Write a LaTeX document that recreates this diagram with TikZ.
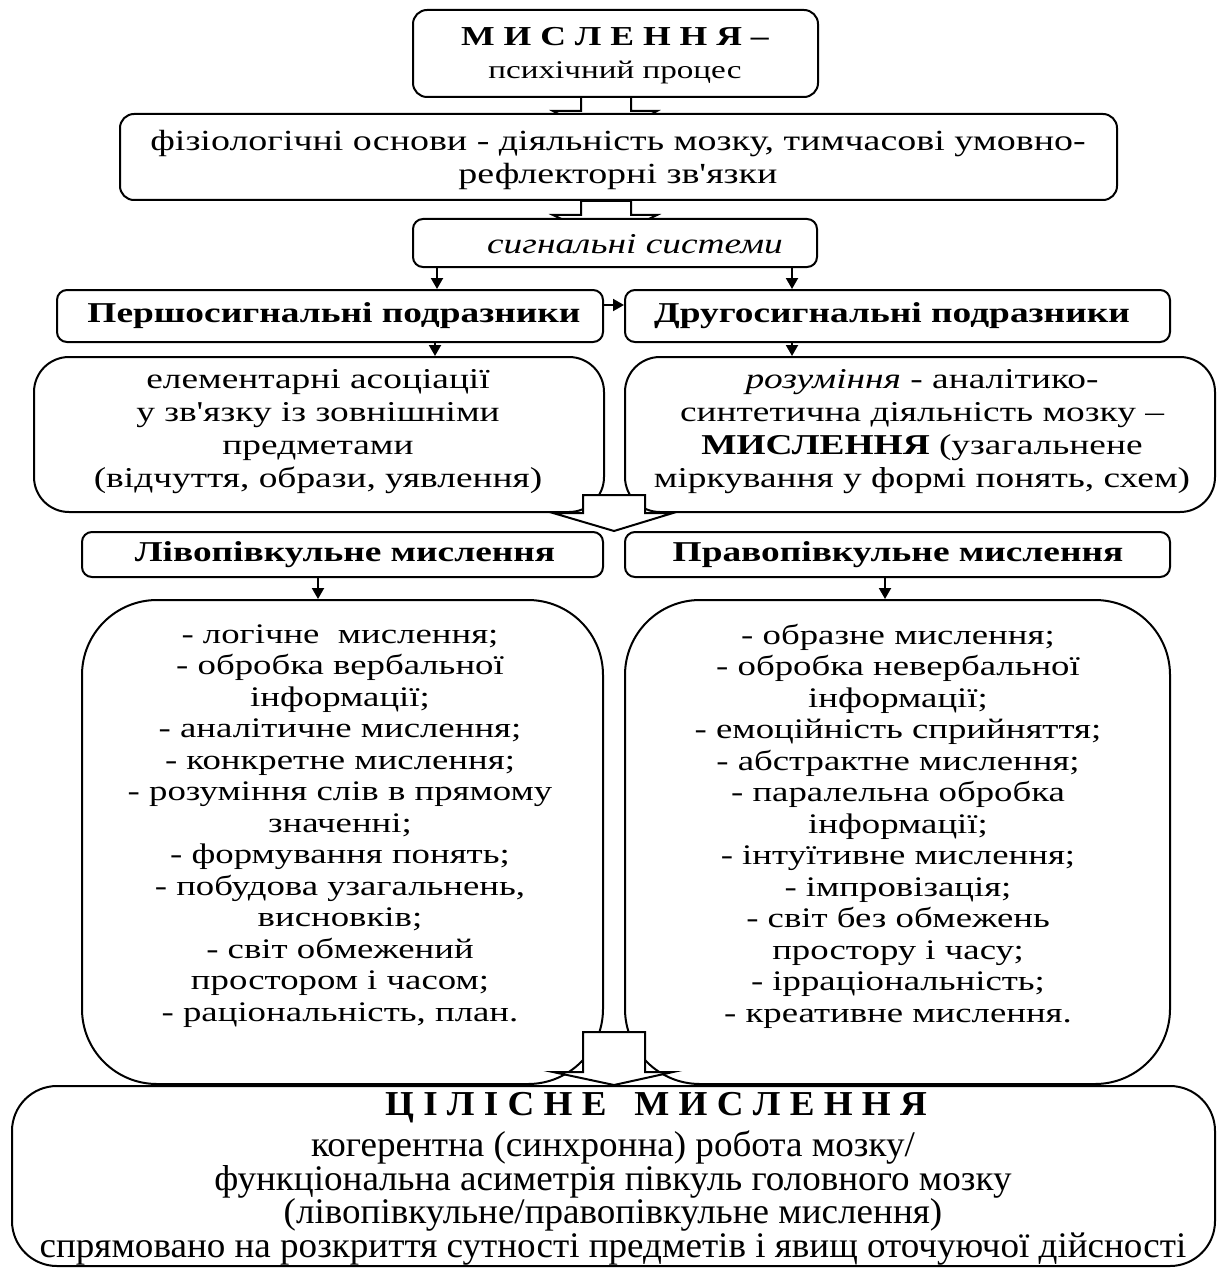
\documentclass[tikz,border=0pt]{standalone}
\usepackage{fontspec}
\setmainfont{Liberation Serif}[Ligatures=TeXOff,FakeStretch=1.3]
\newfontfamily\condfont[FakeStretch=1.03,Ligatures=TeXOff]{Liberation Serif}
\newfontfamily\condtitle[FakeStretch=1.06,Ligatures=TeXOff]{Liberation Serif}
\usetikzlibrary{arrows.meta}
\begin{document}
\begin{tikzpicture}[x=1pt,y=-1pt,
  box/.style={draw, line width=2pt, rounded corners=#1, fill=white, inner sep=0pt},
  box/.default=12pt,
  txt/.style={align=center, inner sep=0pt, font=\fontsize{28.75}{33}\selectfont},
  listtxt/.style={align=center, inner sep=0pt, font=\fontsize{28.3}{31.5}\selectfont},
  arr/.style={-{Triangle[length=11pt,width=12pt]}, line width=2pt},
  blk/.style={draw, line width=2pt, fill=white, line join=miter}
]
\useasboundingbox (0,0) rectangle (1217,1273);

% hollow block arrows behind the boxes
\draw[blk] (581,97) -- (581,111) -- (553,111) -- (606,140) -- (657,111) -- (631,111) -- (631,97) -- cycle;
\draw[blk] (581,201) -- (581,215) -- (553,215) -- (606,240) -- (657,215) -- (631,215) -- (631,201) -- cycle;

% boxes
\node[box=14pt, minimum width=405pt, minimum height=87pt] (b1) at (615.5,53.5) {};
\node[box=14pt, minimum width=997pt, minimum height=86pt] (b2) at (618.5,157) {};
\node[box=10pt, minimum width=404pt, minimum height=48pt] (b3) at (615,243) {};
\node[box=10pt, minimum width=546pt, minimum height=52pt] (b4l) at (330,316) {};
\node[box=10pt, minimum width=545pt, minimum height=52pt] (b4r) at (897.5,316) {};
\node[box=35pt, minimum width=570pt, minimum height=155pt] (b5l) at (319,434.5) {};
\node[box=35pt, minimum width=590pt, minimum height=155pt] (b5r) at (920,434.5) {};
\node[box=10pt, minimum width=521pt, minimum height=45pt] (b6l) at (342.5,554.5) {};
\node[box=10pt, minimum width=545pt, minimum height=45pt] (b6r) at (897.5,554.5) {};
\node[box=75pt, minimum width=521pt, minimum height=484pt] (b7l) at (342.5,842) {};
\node[box=75pt, minimum width=545pt, minimum height=484pt] (b7r) at (897.5,842) {};
\node[box=45pt, minimum width=1203pt, minimum height=180pt] (b8) at (613.5,1176) {};

% texts
\node[txt] (t1) at (615,56) {{\fontsize{27.4}{33}\selectfont\bfseries М И С Л Е Н Н Я –}\\{\fontsize{25.5}{33}\selectfont психічний процес}};
\node[txt, font=\fontsize{29.2}{33}\selectfont] (t2) at (618,160) {фізіологічні основи - діяльність мозку, тимчасові умовно-\\рефлекторні зв'язки};
\node[txt, font=\fontsize{28.75}{33}\selectfont\itshape] (t3) at (635,244) {сигнальні системи};
\node[txt, font=\fontsize{28.75}{33}\selectfont\bfseries] (t4l) at (334,316) {Першосигнальні подразники};
\node[txt, font=\fontsize{28.75}{33}\selectfont\bfseries] (t4r) at (892,316) {Другосигнальні подразники};
\node[txt] (t5l) at (318,432) {елементарні асоціації\\у зв'язку із зовнішніми\\предметами\\(відчуття, образи, уявлення)};
\node[txt] (t5r) at (922,432) {\textit{розуміння} - аналітико-\\синтетична діяльність мозку –\\\textbf{МИСЛЕННЯ} (узагальнене\\міркування у формі понять, схем)};
\node[txt, font=\fontsize{28.75}{33}\selectfont\bfseries] (t6l) at (345,555) {Лівопівкульне мислення};
\node[txt, font=\fontsize{28.75}{33}\selectfont\bfseries] (t6r) at (898,555) {Правопівкульне мислення};
\node[listtxt] (t7l) at (340,826) {- логічне\ \ мислення;\\- обробка вербальної\\інформації;\\- аналітичне мислення;\\- конкретне мислення;\\- розуміння слів в прямому\\значенні;\\- формування понять;\\- побудова узагальнень,\\висновків;\\- світ обмежений\\простором і часом;\\- раціональність, план.};
\node[listtxt] (t7r) at (898,826) {- образне мислення;\\- обробка невербальної\\інформації;\\- емоційність сприйняття;\\- абстрактне мислення;\\- паралельна обробка\\інформації;\\- інтуїтивне мислення;\\- імпровізація;\\- світ без обмежень\\простору і часу;\\- ірраціональність;\\- креативне мислення.};
\node[inner sep=0pt, font=\condtitle\fontsize{35}{33.75}\selectfont\bfseries] (t8a) at (656,1108) {Ц І Л І С Н Е \ \ М И С Л Е Н Н Я};
\node[align=center, inner sep=0pt, font=\condfont\fontsize{36}{33.75}\selectfont] (t8) at (613,1198) {когерентна (синхронна) робота мозку/\\функціональна асиметрія півкуль головного мозку\\(лівопівкульне/правопівкульне мислення)\\спрямовано на розкриття сутності предметів і явищ оточуючої дійсності};

% hollow block arrows in front of the boxes
\draw[blk] (583,495) -- (645,495) -- (645,513) -- (673,513) -- (614,531) -- (553,513) -- (583,513) -- cycle;
\draw[blk] (583,1032) -- (645,1032) -- (645,1072) -- (673,1072) -- (614,1085) -- (553,1072) -- (583,1072) -- cycle;

% small arrows
\draw[arr] (437,0 |- b3.south) -- (437,0 |- b4l.north);
\draw[arr] (792,0 |- b3.south) -- (792,0 |- b4r.north);
\draw[arr] (b4l.east |- 0,305) -- (b4r.west |- 0,305);
\draw[arr] (435,0 |- b4l.south) -- (435,0 |- b5l.north);
\draw[arr] (792,0 |- b4r.south) -- (792,0 |- b5r.north);
\draw[arr] (318,0 |- b6l.south) -- (318,0 |- b7l.north);
\draw[arr] (885,0 |- b6r.south) -- (885,0 |- b7r.north);
\end{tikzpicture}
\end{document}
